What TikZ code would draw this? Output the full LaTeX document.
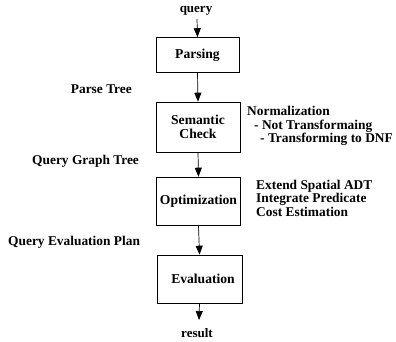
\documentclass[tikz,border=0pt]{standalone}
\usepackage{fontspec}
\setmainfont{Liberation Serif}
\usetikzlibrary{arrows.meta}
\begin{document}
\begin{tikzpicture}[x=1pt,y=-1pt,
  procbox/.style={draw, line width=0.6pt, inner sep=0pt, font=\bfseries\fontsize{13.6}{14}\selectfont, align=center},
  leftlbl/.style={font=\bfseries\fontsize{13.4}{14}\selectfont, inner sep=0pt},
  rightlbl/.style={font=\bfseries\fontsize{13.4}{13.5}\selectfont, inner sep=0pt, align=left},
  endlbl/.style={font=\bfseries\fontsize{13}{14}\selectfont, inner sep=0pt},
  flow/.style={line width=0.7pt, -{Triangle[width=7pt,length=9pt]}}]
\useasboundingbox (0,0) rectangle (396,341);
\node[procbox, minimum width=83pt, minimum height=35pt] (parse) at (197.5,55) {Parsing};
\node[procbox, minimum width=84pt, minimum height=50pt] (sem) at (198,127) {Semantic\\Check};
\node[procbox, minimum width=84pt, minimum height=48pt] (opt) at (198.5,201) {Optimization};
\node[procbox, minimum width=85pt, minimum height=48pt] (eval) at (199.5,279) {\hspace*{7pt}Evaluation};
\node[endlbl] (query) at (196,11) {query};
\node[endlbl] (result) at (197,333) {result};
\coordinate (qend) at (197,19);
\coordinate (rend) at (199,320);
\draw[flow] (qend) -- (parse.north);
\draw[flow] (parse.south) -- (sem.north);
\draw[flow] (sem.south) -- (opt.north);
\draw[flow] (opt.south) -- (eval.north);
\draw[flow] (eval.south) -- (rend);
\node[leftlbl, anchor=east] (pt) at (132,89) {Parse Tree};
\node[leftlbl, anchor=west] (qgt) at (32,161) {Query Graph Tree};
\node[leftlbl, anchor=west] (qep) at (8,242) {Query Evaluation Plan};
\node[rightlbl, anchor=north west] (norm) at (247,106) {Normalization\\\hspace*{7pt}- Not Transformaing\\\hspace*{13pt}- Transforming to DNF};
\node[rightlbl, anchor=north west] (ext) at (256,179.5) {Extend Spatial ADT\\Integrate Predicate\\Cost Estimation};
\end{tikzpicture}
\end{document}
